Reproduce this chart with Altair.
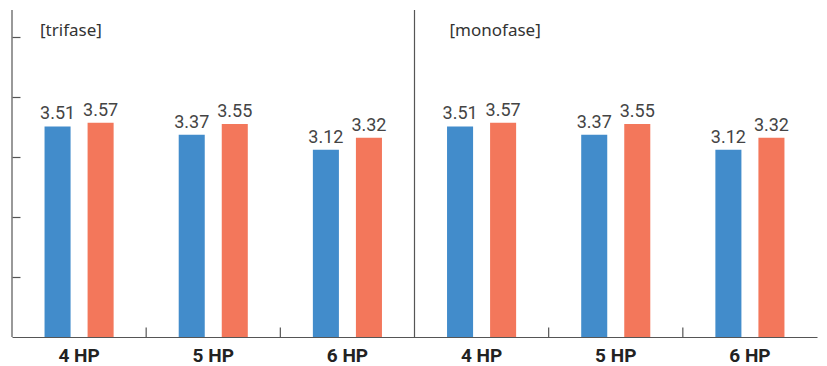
import altair as alt
import pandas as pd

panels = ["trifase", "monofase"]
hp_labels = ["4 HP", "5 HP", "6 HP"]
series = ["A", "B"]
values_a = [3.51, 3.37, 3.12]
values_b = [3.57, 3.55, 3.32]
colors = ["#428CCB", "#F3775B"]
y_ticks = [1, 2, 3, 4, 5]
y_max = 5.45

cats = [f"{p}|{h}" for p in panels for h in hp_labels]

rows = []
for p in panels:
    for i, h in enumerate(hp_labels):
        rows.append({"cat": f"{p}|{h}", "series": "A", "value": values_a[i]})
        rows.append({"cat": f"{p}|{h}", "series": "B", "value": values_b[i]})
df = pd.DataFrame(rows)

W, H = 805, 327
xscale = alt.Scale(domain=cats, paddingInner=0, paddingOuter=0)
yscale = alt.Scale(domain=[0, y_max], nice=False, zero=True)
offscale = alt.Scale(domain=series, paddingInner=0.395, paddingOuter=0.756)

x_enc = alt.X(
    "cat:N", scale=xscale, sort=cats, title=None,
    axis=alt.Axis(
        labelExpr="split(datum.label, '|')[1]", ticks=False, labelAngle=0,
        labelFont="Roboto", labelFontWeight="bold", labelFontSize=19,
        labelColor="#222222", labelPadding=9, domainColor="#555555", domainWidth=1.2,
        grid=False,
    ),
)
y_enc = alt.Y(
    "value:Q", scale=yscale, title=None,
    axis=alt.Axis(
        values=y_ticks, labels=False, domain=False, grid=False, tickSize=8,
        offset=-8, tickColor="#555555", tickWidth=1.2,
    ),
)

base = alt.Chart(df)
bars = base.mark_bar().encode(
    x=x_enc,
    xOffset=alt.XOffset("series:N", scale=offscale, sort=series),
    y=y_enc,
    color=alt.Color("series:N", scale=alt.Scale(domain=series, range=colors), legend=None),
)
labels = base.mark_text(
    font="Roboto", fontSize=18, color="#444444",
    baseline="alphabetic", dy=-7,
).encode(
    x=alt.X("cat:N", scale=xscale, sort=cats),
    xOffset=alt.XOffset("series:N", scale=offscale, sort=series),
    y=alt.Y("value:Q", scale=yscale),
    text=alt.Text("value:Q", format=".2f"),
)

full_lines = alt.Chart(pd.DataFrame({"cat": [cats[0], cats[3]]})).mark_rule(
    color="#555555", strokeWidth=1.2
).encode(
    x=alt.X("cat:N", scale=xscale, sort=cats, bandPosition=0),
    y=alt.datum(0), y2=alt.datum(y_max),
)
short_ticks = alt.Chart(pd.DataFrame({"cat": [cats[1], cats[2], cats[4], cats[5]]})).mark_rule(
    color="#555555", strokeWidth=1.2
).encode(
    x=alt.X("cat:N", scale=xscale, sort=cats, bandPosition=0),
    y=alt.datum(0), y2=alt.datum(0.16),
)

title_font = dict(font="Noto Sans", fontSize=17, color="#333333", align="left", baseline="alphabetic")
t1 = alt.Chart(pd.DataFrame({"cat": [cats[0]], "t": [f"[{panels[0]}]"]})).mark_text(dx=28, **title_font).encode(
    x=alt.X("cat:N", scale=xscale, sort=cats, bandPosition=0), y=alt.value(26), text="t:N",
)
t2 = alt.Chart(pd.DataFrame({"cat": [cats[3]], "t": [f"[{panels[1]}]"]})).mark_text(dx=35, **title_font).encode(
    x=alt.X("cat:N", scale=xscale, sort=cats, bandPosition=0), y=alt.value(26), text="t:N",
)

chart = alt.layer(bars, labels, full_lines, short_ticks, t1, t2).properties(
    width=W, height=H,
    autosize=alt.AutoSizeParams(type="none"),
    padding={"left": 4, "top": 2, "right": 2, "bottom": 29},
).configure_view(stroke=None)

chart.save("out.html", embed_options={"renderer": "svg", "actions": False})
